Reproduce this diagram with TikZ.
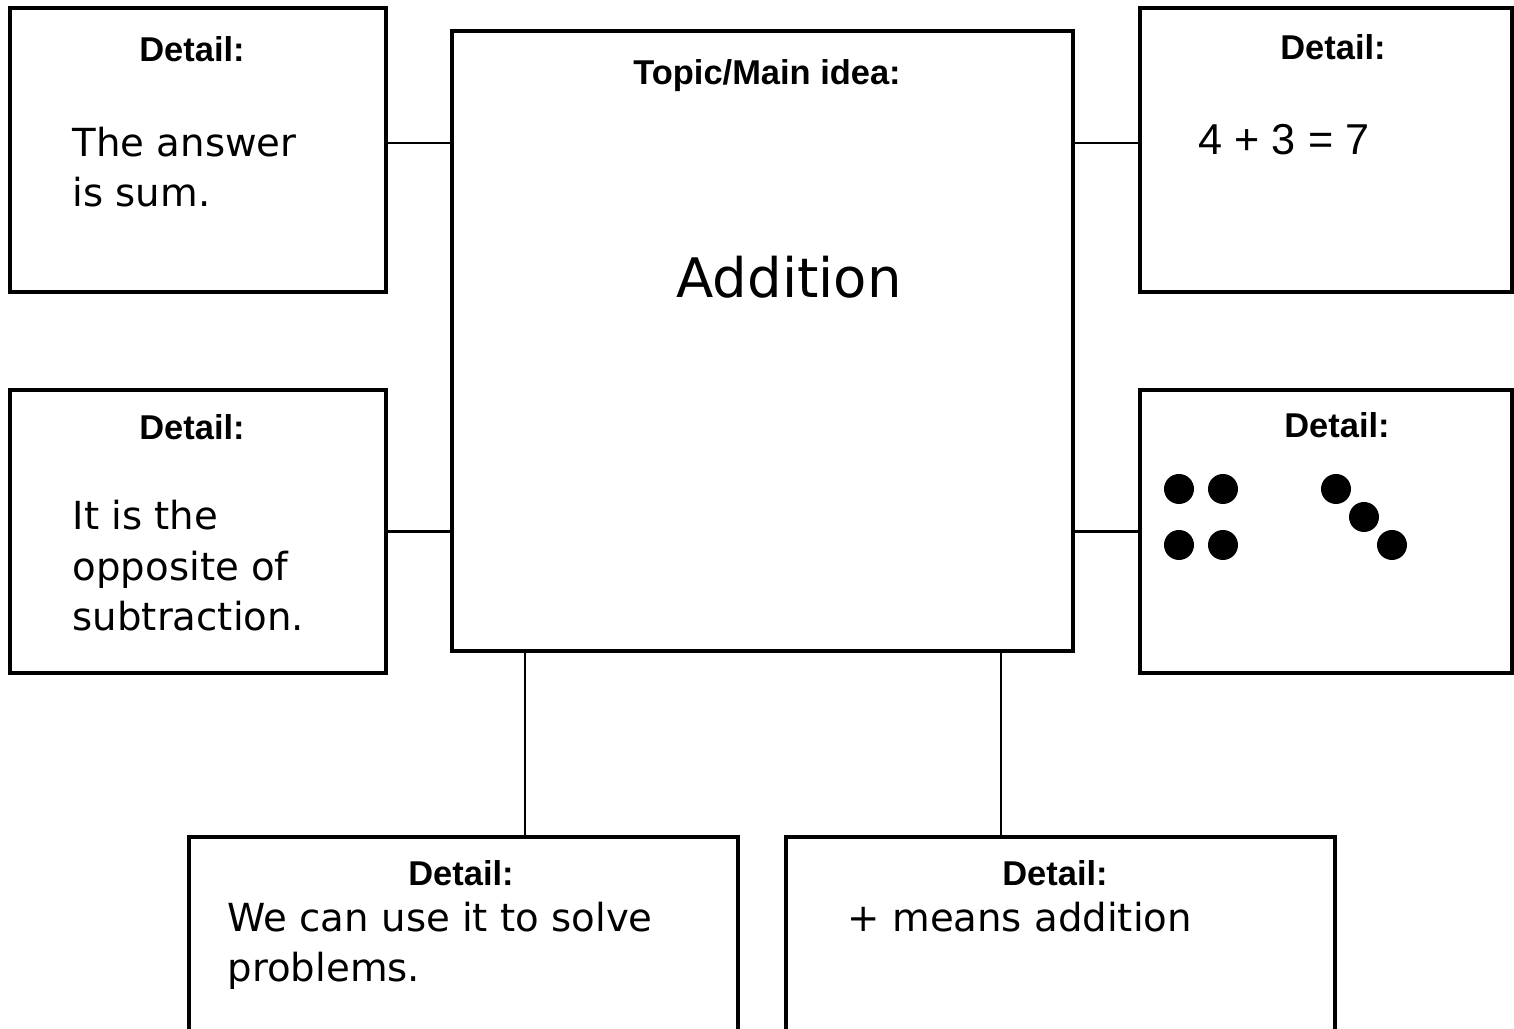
\documentclass[tikz,border=0pt]{standalone}
\usepackage{fontspec}
\setmainfont{Liberation Sans}
\newfontfamily\handfont{DejaVu Sans}

\begin{document}
\begin{tikzpicture}
      [box/.style={draw,line width=0.9pt,rectangle,inner sep=0pt,outer sep=0pt},
       link/.style={line width=0.6pt},
       head/.style={font=\fontsize{9.8}{12}\selectfont\bfseries,inner sep=0pt,anchor=base},
       hand/.style={font=\handfont\fontsize{11}{14.4}\selectfont,inner sep=0pt,anchor=base west,align=left},
       dot/.style={circle,fill=black,minimum size=0.3cm,inner sep=0pt}]
	\useasboundingbox (0,0) rectangle (15.14,-10.29);
	\clip (0,0) rectangle (15.14,-10.29);

	% boxes
	\node (main)[box,minimum width=6.21cm,minimum height=6.20cm] at (7.625,-3.41) {};
	\node (tl)  [box,minimum width=3.76cm,minimum height=2.84cm] at (1.98,-1.50)  {};
	\node (ml)  [box,minimum width=3.76cm,minimum height=2.83cm] at (1.98,-5.315) {};
	\node (tr)  [box,minimum width=3.72cm,minimum height=2.84cm] at (13.26,-1.50) {};
	\node (mr)  [box,minimum width=3.72cm,minimum height=2.83cm] at (13.26,-5.315){};
	\node (bl)  [box,minimum width=5.49cm,minimum height=2.40cm] at (4.635,-9.57) {};
	\node (br)  [box,minimum width=5.49cm,minimum height=2.40cm] at (10.605,-9.57){};

	% connectors
	\draw[link] ([yshift=0.07cm]tl.east) -- ([yshift=0.07cm]tl.east -| main.west);
	\draw[link] ([yshift=0.07cm]tr.west) -- ([yshift=0.07cm]tr.west -| main.east);
	\foreach \from/\to in {ml/main}
	  \draw[link] (\from.east) -- (\from.east -| \to.west);
	\foreach \from/\to in {mr/main}
	  \draw[link] (\from.west) -- (\from.west -| \to.east);
	\coordinate (jl) at (5.25,0);
	\coordinate (jr) at (10.01,0);
	\draw[link] (bl.north -| jl) -- (jl |- main.south);
	\draw[link] (br.north -| jr) -- (jr |- main.south);

	% headings
	\node (hmain)[head] at (7.67,-0.85)  {Topic/Main idea:};
	\node (htl)  [head] at (1.92,-0.62)  {Detail:};
	\node (hml)  [head] at (1.92,-4.40)  {Detail:};
	\node (htr)  [head] at (13.33,-0.60) {Detail:};
	\node (hmr)  [head] at (13.37,-4.38) {Detail:};
	\node (hbl)  [head] at (4.61,-8.86)  {Detail:};
	\node (hbr)  [head] at (10.55,-8.86) {Detail:};

	% texts (base = last line)
	\node (addition)[font=\handfont\fontsize{15.5}{18}\selectfont,inner sep=0pt,anchor=base] at (7.89,-2.98) {Addition};
	\node (ttl)[hand] at (0.72,-2.07) {The answer\\is sum.};
	\node (tml)[hand] at (0.72,-6.31) {It is the\\opposite of\\subtraction.};
	\node (tbl)[hand] at (2.27,-9.82) {We can use it to solve\\problems.};
	\node (tbr)[hand] at (8.47,-9.32) {+ means addition};
	\node (ttr)[font=\fontsize{12.3}{14}\selectfont,inner sep=0pt,anchor=base west] at (11.98,-1.55) {4 + 3 = 7};

	% dots
	\foreach \n/\x/\y in {1/11.79/-4.89,2/12.23/-4.89,3/11.79/-5.45,4/12.23/-5.45,5/13.36/-4.89,6/13.64/-5.17,7/13.92/-5.45}
	  \node (d\n)[dot] at (\x,\y) {};
\end{tikzpicture}
\end{document}
